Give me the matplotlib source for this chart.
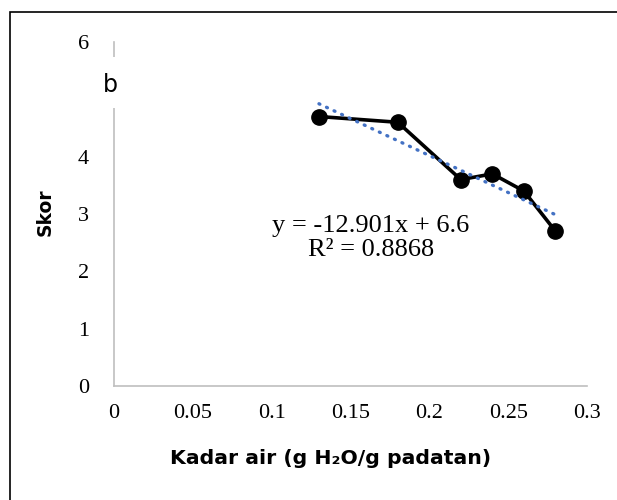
import matplotlib
matplotlib.use("Agg")
import matplotlib.pyplot as plt
import numpy as np
from matplotlib.patches import Rectangle

x_vals = [0.13, 0.18, 0.22, 0.24, 0.26, 0.28]
y_vals = [4.7, 4.6, 3.6, 3.7, 3.4, 2.7]
slope = -12.901
intercept = 6.6
r2 = 0.8868
x_ticks = [0, 0.05, 0.1, 0.15, 0.2, 0.25, 0.3]
x_tick_labels = ["0", "0.05", "0.1", "0.15", "0.2", "0.25", "0.3"]
y_ticks = [0, 1, 2, 3, 4, 5, 6]

W, H = 617, 500
fig = plt.figure(figsize=(6.17, 5.0), dpi=100)
ax = fig.add_axes([114/W, 1-386/H, (587-114)/W, (386-42)/H])

ax.plot(x_vals, y_vals, color="black", lw=2.6, marker="o", ms=11, zorder=3)
xt = np.array([min(x_vals), max(x_vals)])
ax.plot(xt, slope*xt + intercept, color="#4472C4", lw=2.4, ls=(0, (0.3, 2.2)),
        dash_capstyle="round", zorder=4)

ax.set_xlim(0, 0.3)
ax.set_ylim(0, 6)
ax.set_xticks(x_ticks)
ax.set_xticklabels(x_tick_labels)
ax.set_yticks(y_ticks)
for s in ["top", "right"]:
    ax.spines[s].set_visible(False)
for s in ["left", "bottom"]:
    ax.spines[s].set_color("#BFBFBF")
    ax.spines[s].set_linewidth(1.2)
ax.tick_params(length=0, labelsize=16, pad=13)
ax.tick_params(axis="y", pad=18)
for lab in ax.get_xticklabels() + ax.get_yticklabels():
    lab.set_fontfamily("Liberation Serif")

fig.text(331/W, 1-458/H, "Kadar air (g H\u2082O/g padatan)", fontsize=14.7, fontweight="bold",
         family="DejaVu Sans", ha="center", va="center")
fig.text(45/W, 1-212/H, "Skor", fontsize=13.5, fontweight="bold", family="DejaVu Sans",
         ha="center", va="center", rotation=90)

fig.text(371/W, 1-238/H, "y = -12.901x + 6.6\nR\u00b2 = 0.8868", ha="center", va="center",
         fontsize=19, family="Liberation Serif", linespacing=1.15)

fig.patches.append(Rectangle((70/W, 1-108/H), 60/W, 51/H, transform=fig.transFigure,
                             facecolor="white", edgecolor="none", zorder=5))
fig.text(110/W, 1-85/H, "b", fontsize=17, family="DejaVu Sans", ha="center", va="center",
         zorder=6)

fig.patches.append(Rectangle((10/W, -0.1), 1.2, 1-12/H+0.1, transform=fig.transFigure,
                             fill=False, edgecolor="black", lw=1.2))

fig.savefig("out.png", dpi=100)
